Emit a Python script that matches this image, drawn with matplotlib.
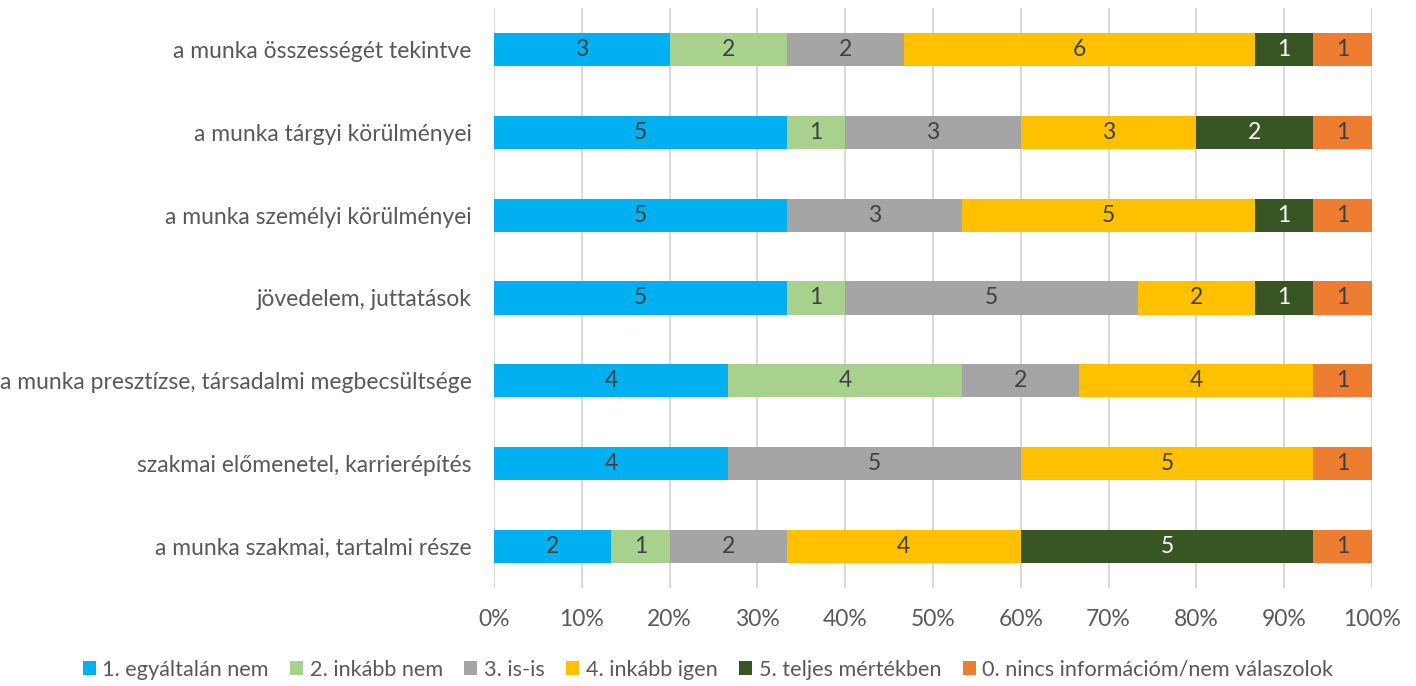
import matplotlib
matplotlib.use("Agg")
import matplotlib.pyplot as plt
import numpy as np

categories = [
    "a munka szakmai, tartalmi része",
    "szakmai előmenetel, karrierépítés",
    "a munka presztízse, társadalmi megbecsültsége",
    "jövedelem, juttatások",
    "a munka személyi körülményei",
    "a munka tárgyi körülményei",
    "a munka összességét tekintve",
]
series_names = [
    "1. egyáltalán nem",
    "2. inkább nem",
    "3. is-is",
    "4. inkább igen",
    "5. teljes mértékben",
    "0. nincs információm/nem válaszolok",
]
values = [
    [2, 4, 4, 5, 5, 5, 3],
    [1, 0, 4, 1, 0, 1, 2],
    [2, 5, 2, 5, 3, 3, 2],
    [4, 5, 4, 2, 5, 3, 6],
    [5, 0, 0, 1, 1, 2, 1],
    [1, 1, 1, 1, 1, 1, 1],
]
colors = ["#00B0F0", "#A9D18E", "#A5A5A5", "#FFC000", "#375623", "#ED7D31"]
label_colors = ["#404040", "#404040", "#404040", "#404040", "#FFFFFF", "#404040"]
xticks = [0, 0.1, 0.2, 0.3, 0.4, 0.5, 0.6, 0.7, 0.8, 0.9, 1.0]

plt.rcParams['font.family'] = ['Lato', 'DejaVu Sans']

fig = plt.figure(figsize=(14.16, 6.86), dpi=100)
ax = fig.add_axes([494/1416, 1-588/686, (1372-494)/1416, 580/686])

vals = np.array(values, dtype=float)
totals = vals.sum(axis=0)
y = np.arange(len(categories))
left = np.zeros(len(categories))
for i, name in enumerate(series_names):
    w = vals[i] / totals
    ax.barh(y, w, left=left, height=0.4, color=colors[i], label=name, zorder=3)
    for j in range(len(categories)):
        if vals[i, j] > 0:
            ax.text(left[j] + w[j] / 2, y[j], f"{int(vals[i, j])}", ha="center", va="center",
                    fontsize=16.5, color=label_colors[i], zorder=4)
    left += w

ax.set_xlim(0, 1)
ax.set_ylim(-0.5, len(categories) - 0.5)
ax.set_xticks(xticks)
ax.set_xticklabels([f"{int(round(t*100))}%" for t in xticks])
ax.set_yticks(y)
ax.set_yticklabels(categories)
ax.tick_params(axis='both', length=0, labelsize=16.5, colors="#595959")
ax.tick_params(axis='x', pad=15)
ax.tick_params(axis='y', pad=16)
ax.xaxis.grid(True, color="#D9D9D9", linewidth=1.5, zorder=0)
ax.set_axisbelow(True)
for s in ax.spines.values():
    s.set_visible(False)

fig.legend(loc="center", bbox_to_anchor=(708/1416, 1-670/686), ncol=6, frameon=False,
           fontsize=15.6, handlelength=0.6, handleheight=0.6, handletextpad=0.3,
           columnspacing=1.0, labelcolor="#595959")

fig.savefig("out.png", dpi=100)
